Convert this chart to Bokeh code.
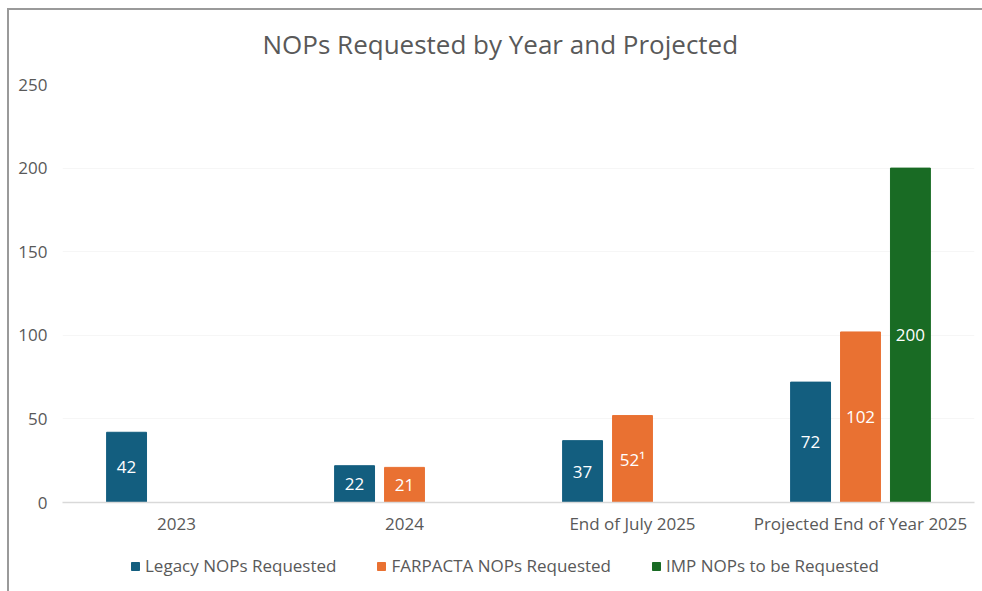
from bokeh.plotting import figure
from bokeh.layouts import column
from bokeh.models import ColumnDataSource, Legend, LegendItem, FactorRange, Range1d
from bokeh.transform import dodge
from bokeh.core.properties import value
from bokeh.embed import file_html
from bokeh.resources import INLINE

categories = ["2023", "2024", "End of July 2025", "Projected End of Year 2025"]
legacy = [42, 22, 37, 72]
farpacta = [None, 21, 52, 102]
imp = [None, None, None, 200]
farpacta_labels = ["", "21", "52\u00b9", "102"]
series_names = ["Legacy NOPs Requested", "FARPACTA NOPs Requested", "IMP NOPs to be Requested"]
y_ticks = [0, 50, 100, 150, 200, 250]

colors = ["#135e7f", "#e97132", "#196b24"]
FONT = "Open Sans"
GREY = "#595959"

p = figure(x_range=FactorRange(*categories), y_range=Range1d(0, 250),
           width=982, height=545, output_backend="svg", toolbar_location=None,
           min_border_left=62, min_border_right=8, min_border_top=79, min_border_bottom=43,
           title="NOPs Requested by Year and Projected")
p.border_fill_color = None
p.styles = {"box-shadow": "inset 7px 8px 0 0 #ffffff, inset 9px 10px 0 0 #9a9a9a"}

p.title.text_font = FONT
p.title.text_font_size = "26px"
p.title.text_font_style = "normal"
p.title.text_color = GREY
p.title.align = "left"
p.title.offset = 200
p.title.standoff = 46

p.outline_line_color = None
p.xgrid.grid_line_color = None
p.ygrid.grid_line_color = "#f6f6f6"
p.yaxis.ticker = y_ticks
p.yaxis.axis_line_color = None
p.yaxis.major_tick_line_color = None
p.yaxis.minor_tick_line_color = None
p.yaxis.major_label_text_font = FONT
p.yaxis.major_label_text_font_size = "17px"
p.yaxis.major_label_text_color = GREY
p.yaxis.major_label_standoff = 9
p.xaxis.axis_line_color = "#d9d9d9"
p.xaxis.axis_line_width = 1.5
p.xaxis.major_tick_line_color = None
p.xaxis.minor_tick_line_color = None
p.xaxis.major_label_text_font = FONT
p.xaxis.major_label_text_font_size = "17px"
p.xaxis.major_label_text_color = GREY
p.xaxis.major_label_standoff = 3

# legend strip below the chart (its bars lie outside its visible y range)
lg = figure(x_range=FactorRange(*categories), y_range=Range1d(1000, 1001),
            width=982, height=46, output_backend="svg", toolbar_location=None,
            x_axis_type=None, y_axis_type=None, min_border=0)
lg.border_fill_color = None
lg.background_fill_color = None
lg.outline_line_color = None
lg.xgrid.grid_line_color = None
lg.ygrid.grid_line_color = None
lg.styles = {"box-shadow": "inset 7px 0 0 0 #ffffff, inset 9px 0 0 0 #9a9a9a"}

off = 0.219
bw = 0.175
series = [legacy, farpacta, imp]
labels = [[str(v) if v is not None else "" for v in legacy], farpacta_labels,
          [str(v) if v is not None else "" for v in imp]]
items = []
for i, (vals, labs) in enumerate(zip(series, labels)):
    cats = [c for c, v in zip(categories, vals) if v is not None]
    vv = [v for v in vals if v is not None]
    ll = [l for l, v in zip(labs, vals) if v is not None]
    src = ColumnDataSource(dict(x=cats, top=vv, mid=[v / 2 for v in vv], lab=ll))
    p.vbar(x=dodge("x", (i - 1) * off, range=p.x_range), top="top", width=bw,
           source=src, fill_color=colors[i], line_color=colors[i])
    p.text(x=dodge("x", (i - 1) * off, range=p.x_range), y="mid", text="lab", source=src,
           text_color="white", text_font=value(FONT), text_font_size="17px",
           text_align="center", text_baseline="middle")
    r = lg.vbar(x="x", top="top", width=bw, source=src,
                fill_color=colors[i], line_color=colors[i])
    items.append(LegendItem(label=series_names[i], renderers=[r]))

legend = Legend(items=items, orientation="horizontal", location=(68, 14),
                label_text_font=FONT, label_text_font_size="17px", label_text_color=GREY,
                glyph_width=10, glyph_height=10, label_standoff=5, spacing=40,
                border_line_color=None, background_fill_alpha=0, margin=0, padding=4)
lg.add_layout(legend, "center")

layout = column(p, lg, spacing=0)
open("out.html", "w").write(file_html(layout, INLINE))
